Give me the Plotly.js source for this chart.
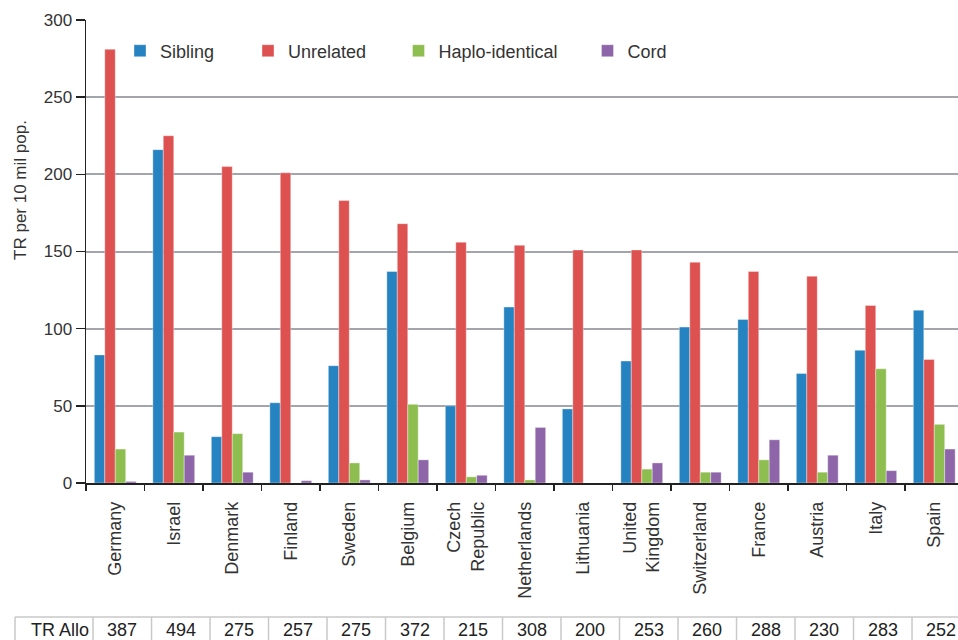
<!DOCTYPE html>
<html>
<head>
<meta charset="utf-8">
<script src="https://cdn.plot.ly/plotly-3.0.1.min.js"></script>
<style>html,body{margin:0;padding:0;background:#fff;}#chart{width:958px;height:640px;}</style>
</head>
<body>
<div id="chart"></div>
<script>
// ---- data ----
var countries = ['Germany','Israel','Denmark','Finland','Sweden','Belgium','Czech<br>Republic','Netherlands','Lithuania','United<br>Kingdom','Switzerland','France','Austria','Italy','Spain'];
var sibling   = [83, 216, 30, 52, 76, 137, 50, 114, 48, 79, 101, 106, 71, 86, 112];
var unrelated = [281, 225, 205, 201, 183, 168, 156, 154, 151, 151, 143, 137, 134, 115, 80];
var haplo     = [22, 33, 32, 0, 13, 51, 4, 2, 0, 9, 7, 15, 7, 74, 38];
var cord      = [1, 18, 7, 1.5, 2, 15, 5, 36, 0, 13, 7, 28, 18, 8, 22];
var trAllo    = [387, 494, 275, 257, 275, 372, 215, 308, 200, 253, 260, 288, 230, 283, 252];
var seriesNames = ['Sibling', 'Unrelated', 'Haplo-identical', 'Cord'];
var tableLabel = 'TR Allo';
var yTitle = 'TR per 10 mil pop.';

// ---- styles ----
var colors = ['#2683c1', '#dd5150', '#8fbe50', '#8d65a8'];
var seriesData = [sibling, unrelated, haplo, cord];
var legendIds = ['legend', 'legend2', 'legend3', 'legend4'];
var legendX = [0.039, 0.1858, 0.3584, 0.5751];
var baseFont = 'Liberation Sans, Arial, Helvetica, sans-serif';

var traces = seriesData.map(function (vals, k) {
  return {
    type: 'bar',
    name: seriesNames[k],
    x: countries,
    y: vals,
    legend: legendIds[k],
    marker: {color: colors[k], line: {color: 'rgba(255,255,255,0.6)', width: 0.6}},
    hoverinfo: 'x+y+name'
  };
});

var layout = {
  width: 958,
  height: 640,
  margin: {l: 86, r: 0, t: 20, b: 157, pad: 0},
  paper_bgcolor: '#ffffff',
  plot_bgcolor: '#ffffff',
  font: {family: baseFont, size: 17, color: '#333333'},
  barmode: 'group',
  bargap: 0.285,
  bargroupgap: 0,
  xaxis: {
    type: 'category',
    range: [-0.5, 14.406],
    showline: true,
    linecolor: '#222222',
    linewidth: 1.5,
    ticks: 'outside',
    tickson: 'boundaries',
    ticklen: 6,
    tickwidth: 1.5,
    tickcolor: '#222222',
    tickangle: -90,
    ticklabelstandoff: 10,
    tickfont: {family: baseFont, size: 18, color: '#333333'},
    showgrid: false,
    zeroline: false,
    fixedrange: true
  },
  yaxis: {
    range: [0, 300],
    tickvals: [0, 50, 100, 150, 200, 250, 300],
    ticks: 'outside',
    ticklen: 9,
    tickwidth: 1.5,
    tickcolor: '#222222',
    tickfont: {family: baseFont, size: 17, color: '#333333'},
    showline: true,
    linecolor: '#222222',
    linewidth: 1.5,
    showgrid: true,
    gridcolor: '#a4a4ac',
    gridwidth: 2,
    zeroline: false,
    fixedrange: true
  },
  showlegend: true,
  shapes: [],
  annotations: []
};

legendIds.forEach(function (id, k) {
  layout[id] = {
    x: legendX[k], xanchor: 'left',
    y: 0.933, yanchor: 'middle',
    orientation: 'h',
    bgcolor: 'rgba(0,0,0,0)',
    borderwidth: 0,
    font: {family: baseFont, size: 18, color: '#333333'}
  };
});

// y-axis title
layout.annotations.push({
  xref: 'paper', yref: 'paper', x: -0.0745, y: 0.633,
  xanchor: 'center', yanchor: 'middle',
  text: yTitle, textangle: -90, showarrow: false,
  font: {family: baseFont, size: 17, color: '#333333'}
});

// table under the chart
var tableTop = -0.2894, tableBottom = -0.37, cellShift = 0.12;
var gray = '#c9c9c9';
var textY = -0.3175;
layout.shapes.push({type: 'line', xref: 'paper', yref: 'paper', x0: -0.0814, x1: 1, y0: tableTop, y1: tableTop, line: {color: gray, width: 1.5}});
layout.shapes.push({type: 'line', xref: 'paper', yref: 'paper', x0: -0.0814, x1: -0.0814, y0: tableTop, y1: tableBottom, line: {color: gray, width: 1.5}});
trAllo.forEach(function (v, i) {
  layout.shapes.push({type: 'line', xref: 'x', yref: 'paper', x0: i - 0.5 + cellShift, x1: i - 0.5 + cellShift, y0: tableTop, y1: tableBottom, line: {color: gray, width: 1.5}});
  layout.annotations.push({
    xref: 'x', yref: 'paper', x: i + cellShift, y: textY,
    xanchor: 'center', yanchor: 'middle',
    text: String(v), showarrow: false,
    font: {family: baseFont, size: 18, color: '#222222'}
  });
});
layout.annotations.push({
  xref: 'paper', yref: 'paper', x: -0.0298, y: textY,
  xanchor: 'center', yanchor: 'middle',
  text: tableLabel, showarrow: false,
  font: {family: baseFont, size: 18, color: '#222222'}
});

Plotly.newPlot('chart', traces, layout, {displayModeBar: false, staticPlot: true});
</script>
</body>
</html>
